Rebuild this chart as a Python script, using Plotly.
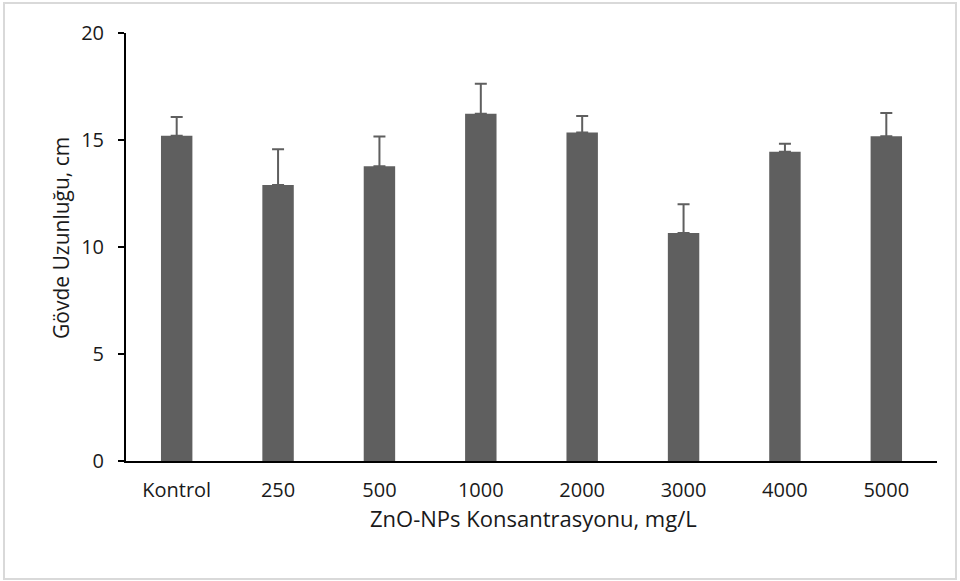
import plotly.graph_objects as go

categories = ["Kontrol", "250", "500", "1000", "2000", "3000", "4000", "5000"]
means = [15.2, 12.9, 13.77, 16.23, 15.35, 10.65, 14.45, 15.17]
errors_up = [0.87, 1.67, 1.39, 1.40, 0.77, 1.35, 0.38, 1.09]
y_ticks = [0, 5, 10, 15, 20]
x_title = "ZnO-NPs Konsantrasyonu, mg/L"
y_title = "Gövde Uzunluğu, cm"

BAR = "#5f5f5f"
FONT = "Open Sans"
TXT = "#1a1a1a"

fig = go.Figure()
fig.add_trace(go.Bar(
    x=categories, y=means,
    marker=dict(color=BAR, line=dict(width=0)),
    width=0.31,
    error_y=dict(type="data", symmetric=False, array=errors_up,
                 arrayminus=[0] * len(errors_up),
                 color=BAR, thickness=2, width=6),
))

L, R, T, B = 126, 23, 33, 120
W, H = 960, 581
pw, ph = W - L - R, H - T - B

fig.update_layout(
    width=W, height=H,
    margin=dict(l=L, r=R, t=T, b=B),
    paper_bgcolor="white", plot_bgcolor="white",
    showlegend=False,
    font=dict(family=FONT, color="#000000", size=20),
    xaxis=dict(
        type="category", range=[-0.5, 7.5],
        showline=True, linecolor="#000000", linewidth=2,
        ticks="", showgrid=False, tickfont=dict(size=20, family=FONT, color=TXT),
        ticklabelstandoff=10,
    ),
    yaxis=dict(
        range=[0, 20], tickvals=y_ticks,
        showline=True, linecolor="#000000", linewidth=2,
        ticks="outside", ticklen=6, tickwidth=1.5, tickcolor="#000000",
        showgrid=False, zeroline=False,
        tickfont=dict(size=20, family=FONT, color=TXT),
        ticklabelstandoff=10,
    ),
)

fig.add_annotation(text=x_title, xref="paper", yref="paper",
                   x=(533 - L) / pw, y=(H - B - 518) / ph,
                   xanchor="center", yanchor="middle", showarrow=False,
                   font=dict(size=22, family=FONT, color=TXT))
fig.add_annotation(text=y_title, xref="paper", yref="paper",
                   x=(61 - L) / pw, y=(H - B - 238) / ph, textangle=-90,
                   xanchor="center", yanchor="middle", showarrow=False,
                   font=dict(size=21, family=FONT, color=TXT))

# outer light gray frame around the chart
fig.add_shape(
    type="rect", xref="paper", yref="paper",
    x0=(4 - L) / pw, x1=(956 - L) / pw,
    y0=(H - B - 579) / ph, y1=(H - B - 3) / ph,
    line=dict(color="#d9d9d9", width=2), fillcolor="rgba(0,0,0,0)",
    layer="below",
)

fig.write_html("out.html", config={"displayModeBar": False},
               post_script="document.body.style.margin='0';document.body.style.overflow='hidden';")
